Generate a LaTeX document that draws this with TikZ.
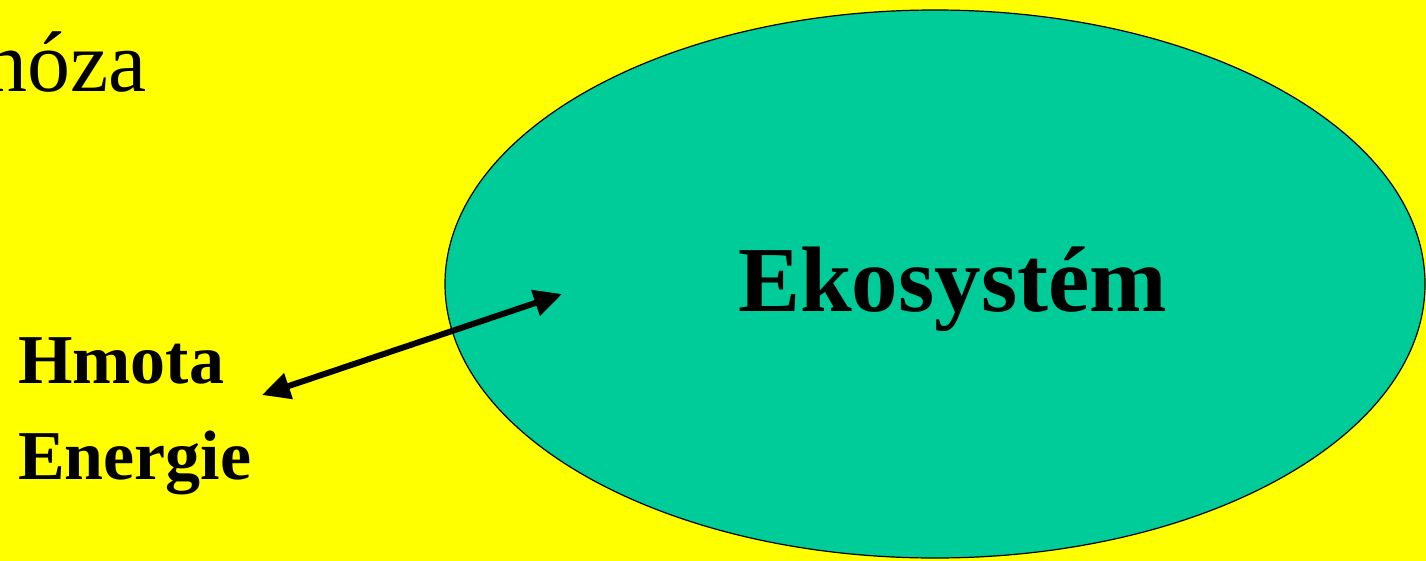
\documentclass[tikz,border=0pt]{standalone}
\usepackage{fontspec}
\setmainfont{Liberation Serif}
\usetikzlibrary{shapes.geometric,arrows.meta}
\definecolor{bgyellow}{RGB}{255,255,0}
\definecolor{ecoteal}{RGB}{0,204,153}
\tikzset{
  lbl/.style={inner sep=0pt, anchor=base west, text=black},
  dblarrow/.style={line width=6pt, {Triangle[length=28pt,width=26pt]}-{Triangle[length=28pt,width=26pt]}}
}
\begin{document}
\begin{tikzpicture}[x=1pt,y=-1pt]
\useasboundingbox (0,0) rectangle (1426,560);
\fill[bgyellow] (-1,-1) rectangle (1427,561);
\node[ellipse, draw=black, line width=1.2pt, fill=ecoteal, minimum width=980pt, minimum height=548pt, inner sep=0pt] (eco) at (935,284) {};
\node[inner sep=0pt, anchor=base east] (noza) at (147,91) {\fontsize{86}{100}\selectfont nóza};
\node[lbl] (ekos) at (738,311) {\fontsize{93}{100}\selectfont\bfseries Ekosystém};
\node[lbl] (hmota) at (18,383) {\fontsize{70}{80}\selectfont\bfseries Hmota};
\node[lbl] (energie) at (18,479) {\fontsize{70}{80}\selectfont\bfseries Energie};
\coordinate (aL) at (262,395);
\coordinate (aR) at (562,294);
\draw[dblarrow] (aL) -- (aR);
\end{tikzpicture}
\end{document}
